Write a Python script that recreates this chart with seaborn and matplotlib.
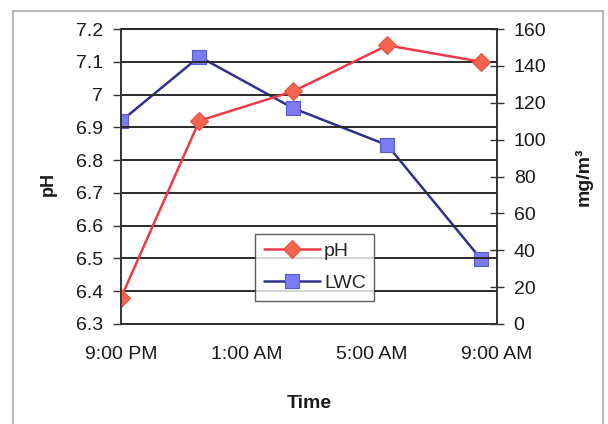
import matplotlib
matplotlib.use("Agg")
import matplotlib.pyplot as plt
import seaborn as sns
import pandas as pd
from matplotlib.patches import Rectangle

# ---- data ----
time_hours = [0, 2.5, 5.5, 8.5, 11.5]          # hours after 9:00 PM
ph_values = [6.38, 6.92, 7.01, 7.15, 7.10]
lwc_values = [110, 145, 117, 97, 35]            # mg/m^3
xtick_hours = [0, 4, 8, 12]
xtick_labels = ["9:00 PM", "1:00 AM", "5:00 AM", "9:00 AM"]
ph_ticks = [6.3, 6.4, 6.5, 6.6, 6.7, 6.8, 6.9, 7.0, 7.1, 7.2]
ph_tick_labels = ["6.3", "6.4", "6.5", "6.6", "6.7", "6.8", "6.9", "7", "7.1", "7.2"]
lwc_ticks = [0, 20, 40, 60, 80, 100, 120, 140, 160]

df = pd.DataFrame({"time": time_hours, "pH": ph_values, "LWC": lwc_values})

sns.set_theme(style="white")
plt.rcParams["font.family"] = ["Liberation Sans", "DejaVu Sans"]

fig = plt.figure(figsize=(6.08, 4.24), dpi=100)
fig.patch.set_facecolor("white")
ax = fig.add_subplot(111)
fig.subplots_adjust(left=121/608, right=497/608, top=1-29/424, bottom=1-324/424)
ax2 = ax.twinx()

ph_line = "#ee3a48"
ph_marker = "#f4644f"
lwc_line = "#30308e"
lwc_marker = "#7c7cf2"

sns.lineplot(data=df, x="time", y="pH", ax=ax, color=ph_line, lw=1.8,
             marker="D", markersize=9, markerfacecolor=ph_marker,
             markeredgecolor="#e05545", markeredgewidth=0.8, label="pH", legend=False)
sns.lineplot(data=df, x="time", y="LWC", ax=ax2, color=lwc_line, lw=1.8,
             marker="s", markersize=10.5, markerfacecolor=lwc_marker,
             markeredgecolor="#5a5ad0", markeredgewidth=0.8, label="LWC", legend=False)

ax.set_xlim(0, 12)
ax.set_ylim(6.3, 7.2)
ax2.set_ylim(0, 160)
ax.set_xticks(xtick_hours)
ax.set_xticklabels(xtick_labels)
ax.set_yticks(ph_ticks)
ax.set_yticklabels(ph_tick_labels)
ax2.set_yticks(lwc_ticks)

ax.yaxis.grid(True, color="#2a2a2a", lw=1.4)
ax.xaxis.grid(False)
ax2.grid(False)
ax.set_axisbelow(True)

fs = 14
for a in (ax, ax2):
    for s in a.spines.values():
        s.set_color("#333333")
        s.set_linewidth(1.2)
    a.spines["top"].set_color("#2a2a2a")
    a.spines["top"].set_linewidth(1.4)
ax.tick_params(axis="y", direction="out", length=6, width=1, color="#333333",
               labelsize=fs, pad=7, labelcolor="#1a1a1a")
ax.tick_params(axis="x", direction="inout", length=8, width=1, color="#333333",
               labelsize=fs, pad=12, labelcolor="#1a1a1a")
ax2.tick_params(axis="y", direction="inout", length=10, width=1, color="#333333",
                labelsize=fs, pad=7, labelcolor="#1a1a1a")

ax.set_xlabel("Time", fontsize=14, fontweight="bold", color="#1a1a1a")
ax.set_ylabel("pH", fontsize=13, fontweight="bold", color="#1a1a1a")
ax2.set_ylabel("mg/m³", fontsize=14, fontweight="bold", color="#1a1a1a")
ax.xaxis.set_label_coords(0.5, -0.242)
ax.yaxis.set_label_coords(-0.17, 0.475)
ax2.yaxis.set_label_coords(1.207, 0.5)

handles = [ax.get_lines()[0], ax2.get_lines()[0]]
leg = ax.legend(handles, ["pH", "LWC"], loc="lower left",
                bbox_to_anchor=(0.356, 0.078), frameon=True, fancybox=False,
                fontsize=14, handlelength=2.9, handletextpad=0.2,
                borderpad=0.45, labelspacing=0.75, borderaxespad=0)
leg.get_frame().set_edgecolor("#333333")
leg.get_frame().set_linewidth(1.0)
leg.set_zorder(10)
ax.set_zorder(ax2.get_zorder() + 1)
ax.patch.set_visible(False)

# outer chart frame
fig.patches.append(Rectangle((13/608, -0.1), (603-13)/608, 1.1 - 11/424,
                             transform=fig.transFigure, fill=False,
                             edgecolor="#b8b8b8", lw=1.5))

fig.savefig("out.png", dpi=100)
